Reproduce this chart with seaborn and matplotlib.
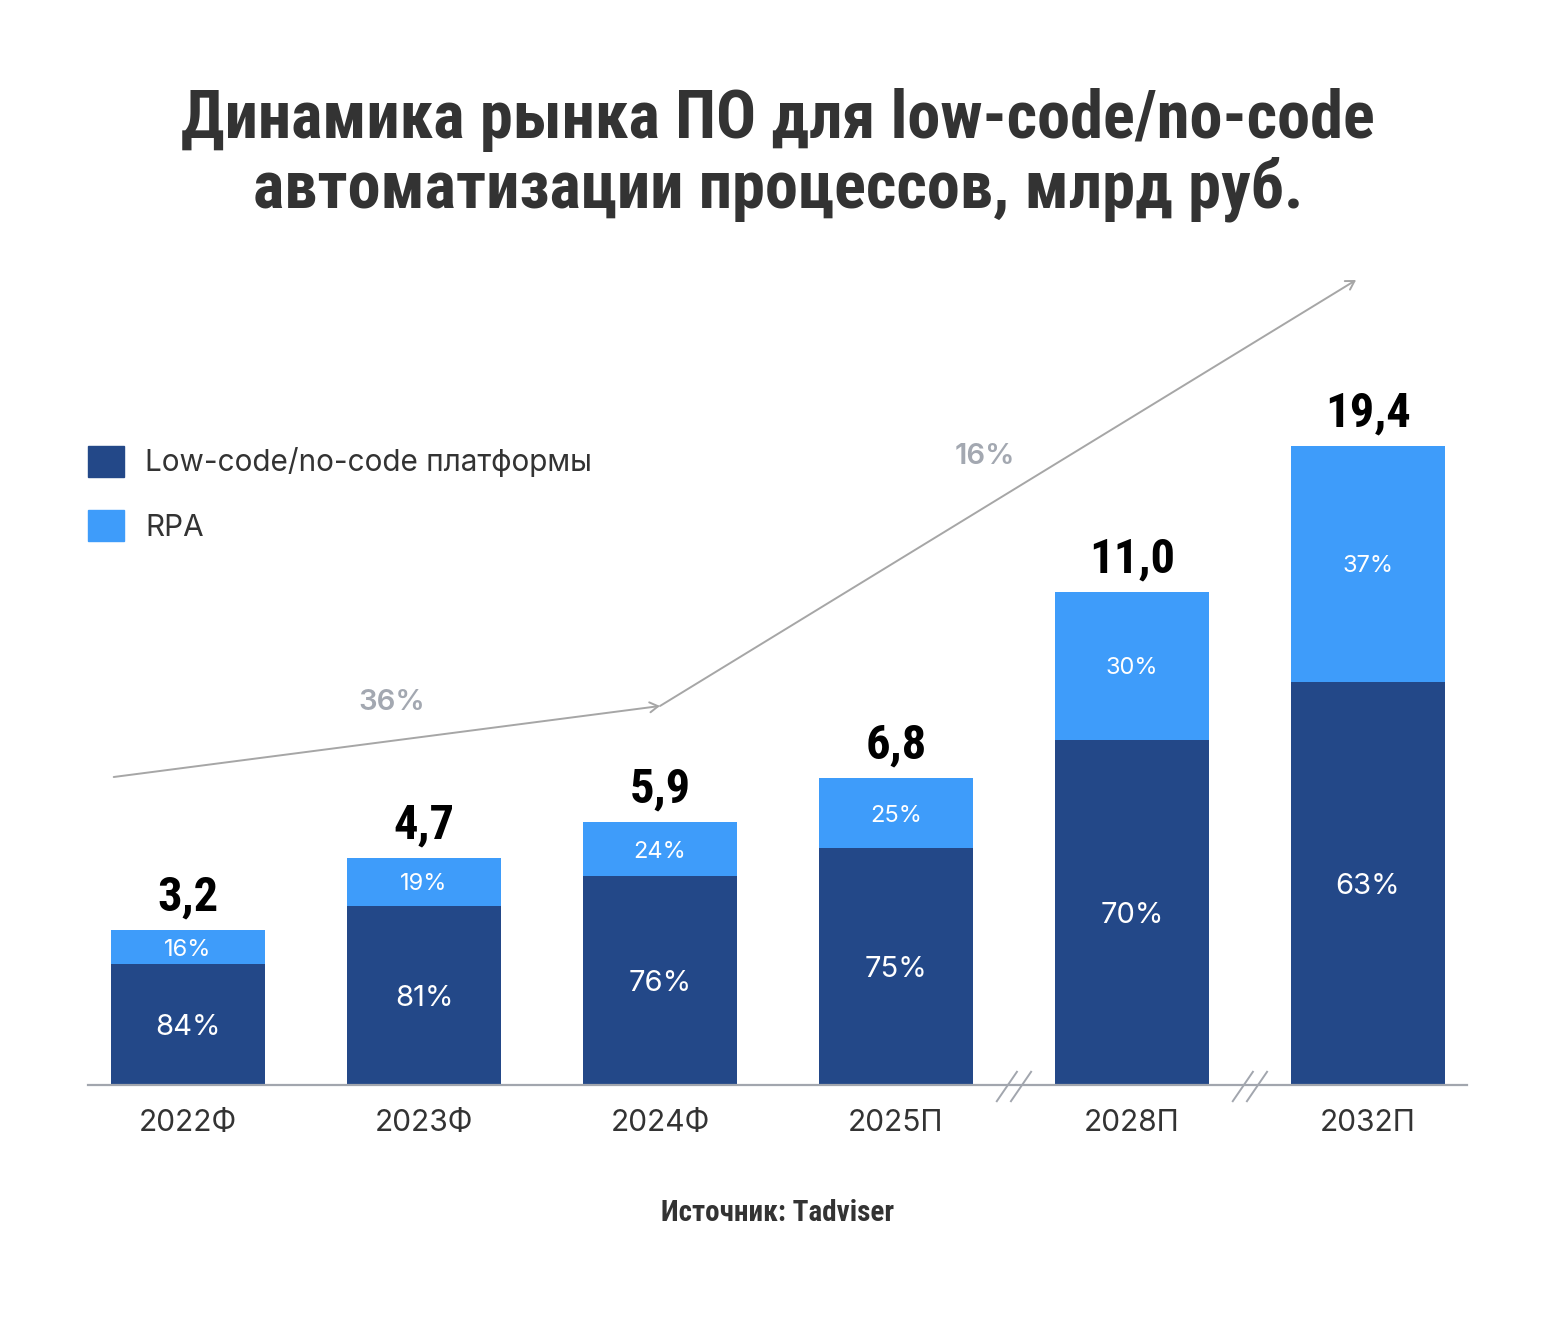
import matplotlib
matplotlib.use("Agg")
import matplotlib.pyplot as plt
import seaborn as sns
import pandas as pd
from matplotlib import font_manager
from matplotlib.patches import Patch

# data
years = ["2022Ф", "2023Ф", "2024Ф", "2025П", "2028П", "2032П"]
totals = ["3,2", "4,7", "5,9", "6,8", "11,0", "19,4"]
share_low = ["84%", "81%", "76%", "75%", "70%", "63%"]
share_rpa = ["16%", "19%", "24%", "25%", "30%", "37%"]
# drawn heights of the segments (bars are not to scale in the original)
h_low = [121, 179, 209, 237, 345, 403]
h_rpa = [34, 48, 54, 70, 148, 236]
cagr_labels = ["36%", "16%"]

DARK = "#234888"
LIGHT = "#3E9CFA"
TXT = "#333333"
GRAY = "#A3A8B1"

names = {f.name for f in font_manager.fontManager.ttflist}
COND = next((n for n in ["Roboto Condensed", "Liberation Sans Narrow", "Roboto"] if n in names), "DejaVu Sans")
BODY = "Inter" if "Inter" in names else "DejaVu Sans"

sns.set_theme(style="white")
plt.rcParams["font.family"] = [BODY, "DejaVu Sans"]

df = pd.DataFrame({"year": years, "total": [a + b for a, b in zip(h_low, h_rpa)], "low": h_low})

W, H = 1556, 1326
fig = plt.figure(figsize=(W / 100, H / 100), dpi=100)
ax = fig.add_axes([88 / W, (H - 1085) / H, 1379 / W, 1085 / H])

sns.barplot(data=df, x="year", y="total", color=LIGHT, width=0.65, saturation=1, linewidth=0, ax=ax)
sns.barplot(data=df, x="year", y="low", color=DARK, width=0.65, saturation=1, linewidth=0, ax=ax)

ax.set_xlim(-0.424, 5.42)
ax.set_ylim(0, 1085)
ax.set_xlabel("")
ax.set_ylabel("")
ax.set_yticks([])
for s in ["top", "right", "left"]:
    ax.spines[s].set_visible(False)
ax.spines["bottom"].set_color("#A2A6AE")
ax.spines["bottom"].set_linewidth(1.6)
ax.tick_params(axis="x", length=0, pad=17, labelsize=21.5, labelcolor=TXT)

# labels on bars
for i in range(len(years)):
    lo, rp = h_low[i], h_rpa[i]
    ax.text(i, lo / 2, share_low[i], ha="center", va="center_baseline", color="white", fontsize=21)
    ax.text(i, lo + rp / 2, share_rpa[i], ha="center", va="center_baseline", color="white", fontsize=17)
    ax.text(i, lo + rp + 20, totals[i], ha="center", va="baseline", color="black",
            fontsize=35, fontweight="bold", family=COND)

# axis break marks
for xb in [3.5, 4.5]:
    for dx in [-0.03, 0.03]:
        ax.plot([xb + dx - 0.045, xb + dx + 0.045], [-17, 14], color="#A2A6AE", lw=1.4,
                clip_on=False, solid_capstyle="butt")

# growth arrows
arrow = dict(arrowstyle="->,head_length=0.5,head_width=0.3", color="#A6A6A6", lw=1.4,
             shrinkA=0, shrinkB=0)
ax.annotate("", xy=(2.0, 379), xytext=(-0.315, 308), arrowprops=arrow)
ax.annotate("", xy=(4.95, 805), xytext=(2.0, 379), arrowprops=arrow)
ax.text(0.865, 386, cagr_labels[0], ha="center", va="center_baseline", color=GRAY,
        fontsize=21, fontweight="semibold")
ax.text(3.375, 632, cagr_labels[1], ha="center", va="center_baseline", color=GRAY,
        fontsize=21, fontweight="semibold")

# legend
handles = [Patch(color=DARK, label="Low-code/no-code платформы"), Patch(color=LIGHT, label="RPA")]
fig.legend(handles=handles, loc="upper left", bbox_to_anchor=(88 / W, 1 - 446 / H), frameon=False,
           fontsize=21.4, labelcolor=TXT, handlelength=1.22, handleheight=1.22, handletextpad=0.7,
           labelspacing=1.1, borderpad=0, borderaxespad=0)

# title
t1 = fig.text(0.5, 1 - 138 / H, "Динамика рынка ПО для low-code/no-code", ha="center", va="baseline",
              fontsize=48.5, fontweight="bold", color=TXT, family=COND)
t2 = fig.text(0.5, 1 - 208 / H, "автоматизации процессов, млрд руб.", ha="center", va="baseline",
              fontsize=48.5, fontweight="bold", color=TXT, family=COND)
fig.canvas.draw()
wid = t1.get_window_extent().width
if wid > 1200:
    for t in (t1, t2):
        t.set_fontsize(48.5 * 1195 / wid)

fig.text(778 / W, 1 - 1221 / H, "Источник: Tadviser", ha="center", va="baseline",
         fontsize=21, fontweight="bold", color=TXT, family=COND)

fig.savefig("out.png", dpi=100, facecolor="white")
